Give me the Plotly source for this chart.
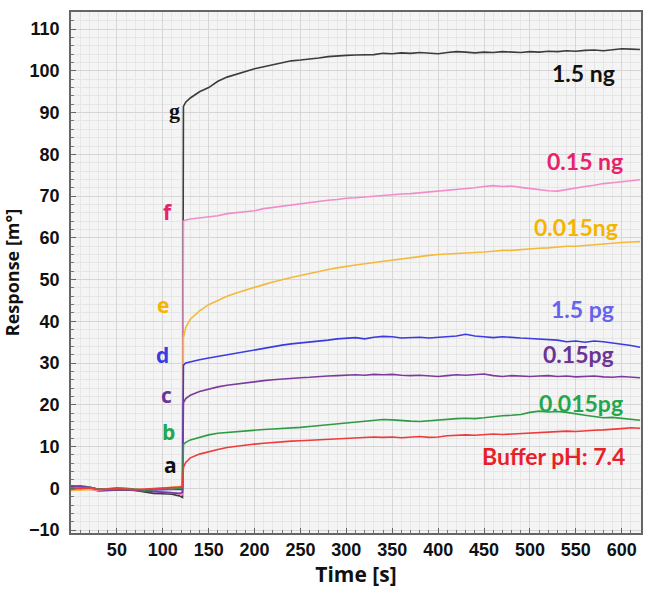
import plotly.graph_objects as go

# time axes (s)
t_pre = [0, 10, 20, 30, 40, 50, 60, 70, 80, 90, 100, 110, 118, 121.5]
t_post = [122.5, 125, 130, 140, 150, 160, 170, 180, 190, 200, 210, 220, 230, 240,
          250, 260, 270, 280, 290, 300, 310, 320, 330, 340, 350, 360, 370, 380,
          390, 400, 410, 420, 430, 440, 450, 460, 470, 480, 490, 500, 510, 520,
          530, 540, 550, 560, 570, 580, 590, 600, 610, 620]

# baseline responses before injection (m°)
g_pre = [0.5, 0.3, -0.1, -0.6, -0.5, -0.4, -0.4, -0.5, -0.9, -1.2, -1.3, -1.4, -1.8, -2.2]
f_pre = [0.3, 0.2, -0.3, -0.5, -0.3, -0.3, -0.2, -0.4, -0.6, -0.8, -0.9, -1.0, -1.3, -1.5]
e_pre = [-0.5, -0.4, -0.3, -0.3, -0.2, 0.0, -0.1, -0.3, -0.4, -0.2, 0.0, 0.2, 0.4, 0.5]
d_pre = [0.6, 0.4, 0.2, -0.2, -0.3, -0.1, -0.2, -0.4, -0.5, -0.4, -0.3, -0.3, -0.2, -0.3]
c_pre = [0.4, 0.6, 0.3, -0.2, -0.4, -0.2, -0.3, -0.5, -0.6, -0.8, -0.9, -1.0, -1.2, -1.0]
b_pre = [0.2, -0.1, 0.3, -0.2, -0.1, 0.1, 0.0, -0.2, -0.4, -0.3, -0.1, -0.2, 0.0, 0.2]
a_pre = [-0.3, 0.0, 0.1, -0.3, -0.2, -0.1, -0.2, -0.3, -0.2, -0.1, 0.0, 0.1, 0.3, 0.4]

# responses after injection (m°)
g_post = [91.5, 92.5, 93.5, 95.0, 96.0, 97.5, 98.5, 99.2, 99.8, 100.5, 101.0, 101.5, 102.0, 102.4,
          102.6, 102.8, 103.1, 103.4, 103.6, 103.7, 103.8, 103.9, 103.9, 104.2, 104.1, 104.3, 104.2, 104.4,
          104.3, 104.1, 104.4, 104.6, 104.5, 104.3, 104.5, 104.4, 104.6, 104.5, 104.4, 104.6, 104.5, 104.7,
          104.6, 104.8, 104.7, 104.9, 105.0, 104.8, 105.1, 105.3, 105.2, 105.1]
f_post = [64.0, 64.3, 64.5, 64.8, 65.0, 65.3, 65.8, 66.0, 66.3, 66.5, 67.0, 67.3, 67.5, 67.8,
          68.2, 68.5, 68.8, 69.0, 69.2, 69.5, 69.6, 69.8, 69.9, 70.2, 70.3, 70.5, 70.6, 70.8,
          71.0, 71.1, 71.4, 71.6, 71.8, 72.0, 72.3, 72.5, 72.3, 72.4, 72.1, 71.8, 71.6, 71.3,
          71.2, 71.6, 71.9, 72.3, 72.6, 73.0, 73.2, 73.4, 73.7, 73.9]
e_post = [36.0, 38.5, 40.5, 42.5, 44.0, 45.0, 46.0, 46.8, 47.5, 48.2, 48.8, 49.4, 50.0, 50.5,
          51.0, 51.5, 52.0, 52.4, 52.8, 53.2, 53.5, 53.8, 54.1, 54.4, 54.6, 54.9, 55.2, 55.6,
          55.8, 56.0, 56.1, 56.2, 56.3, 56.5, 56.6, 56.8, 57.0, 57.0, 57.2, 57.3, 57.5, 57.6,
          57.8, 58.0, 58.0, 58.2, 58.3, 58.6, 58.7, 58.9, 59.0, 59.1]
d_post = [29.5, 30.0, 30.3, 30.8, 31.2, 31.6, 32.0, 32.4, 32.8, 33.2, 33.6, 34.0, 34.3, 34.6,
          34.8, 35.0, 35.3, 35.5, 35.8, 36.0, 36.1, 35.8, 36.2, 36.4, 36.3, 36.0, 36.1, 36.2,
          36.0, 36.2, 36.3, 36.5, 36.9, 36.5, 36.3, 36.1, 36.3, 36.1, 36.0, 35.9, 35.8, 35.6,
          35.5, 35.1, 35.3, 35.0, 35.3, 35.1, 34.8, 34.6, 34.2, 33.8]
c_post = [20.5, 21.5, 22.3, 23.2, 23.8, 24.3, 24.7, 25.0, 25.3, 25.5, 25.8, 26.0, 26.2, 26.3,
          26.5, 26.6, 26.8, 26.9, 27.0, 27.1, 27.2, 27.1, 27.3, 27.2, 27.3, 27.1, 27.0, 27.1,
          26.9, 26.8, 27.0, 27.2, 27.1, 27.3, 27.4, 27.0, 26.8, 27.0, 26.9, 26.8, 26.9, 27.0,
          26.8, 26.9, 26.7, 26.8, 26.9, 26.7, 26.6, 26.8, 26.7, 26.5]
b_post = [10.5, 11.0, 11.6, 12.2, 12.8, 13.2, 13.4, 13.6, 13.8, 14.0, 14.1, 14.2, 14.3, 14.4,
          14.6, 14.8, 15.0, 15.2, 15.4, 15.6, 15.9, 16.1, 16.3, 16.5, 16.4, 16.2, 16.1, 16.0,
          16.2, 16.3, 16.5, 16.7, 16.8, 16.7, 16.9, 17.2, 17.4, 17.5, 17.7, 18.2, 18.5, 18.3,
          18.4, 18.2, 17.8, 17.5, 17.2, 16.9, 17.0, 16.8, 16.6, 16.3]
a_post = [5.0, 6.2, 7.3, 8.2, 8.8, 9.3, 9.8, 10.1, 10.4, 10.6, 10.8, 11.0, 11.2, 11.3,
          11.4, 11.5, 11.6, 11.7, 11.9, 12.0, 12.1, 12.2, 12.3, 12.2, 12.3, 12.1, 12.3, 12.4,
          12.2, 12.3, 12.6, 12.7, 12.8, 12.7, 12.9, 13.0, 12.9, 13.0, 13.1, 13.2, 13.4, 13.5,
          13.6, 13.7, 13.6, 13.8, 13.9, 14.0, 14.1, 14.3, 14.5, 14.4]

series_names = ["1.5 ng", "0.15 ng", "0.015ng", "1.5 pg", "0.15pg", "0.015pg", "Buffer pH: 7.4"]
letters = ["g", "f", "e", "d", "c", "b", "a"]
pre_sets = [g_pre, f_pre, e_pre, d_pre, c_pre, b_pre, a_pre]
post_sets = [g_post, f_post, e_post, d_post, c_post, b_post, a_post]
line_colors = ["#3c3c3c", "#f28cc8", "#f5b93a", "#3b3be0", "#7d3a9e", "#2e9a44", "#ee3b3b"]
label_colors = ["#111111", "#e8226a", "#f5b400", "#6464ee", "#6a3595", "#22a84a", "#e8202a"]
letter_colors = ["#111111", "#e8226a", "#f5b400", "#3b3be0", "#6a3595", "#22a84a", "#111111"]
letter_fonts = ["Liberation Serif, DejaVu Serif, serif"] + ["Open Sans, Lato, sans-serif"] * 6

# label anchor positions (data coordinates)
letter_x = [113, 106, 100, 100, 104, 106, 108]
letter_y = [90.5, 66.3, 43.8, 31.9, 22.3, 13.4, 5.7]
name_x = [558, 560, 550, 557, 553, 556, 526]
name_y = [99.4, 78.3, 62.5, 42.9, 32.1, 20.4, 7.7]

fig = go.Figure()
for i in range(len(series_names)):
    fig.add_trace(go.Scatter(
        x=t_pre + t_post, y=pre_sets[i] + post_sets[i], mode="lines",
        line=dict(color=line_colors[i], width=1.6), name=series_names[i],
        showlegend=False, hoverinfo="skip"))

for i in range(len(series_names)):
    fig.add_annotation(x=letter_x[i], y=letter_y[i], text=letters[i], showarrow=False,
                       font=dict(family=letter_fonts[i], size=22 if i == 0 else 21,
                                 color=letter_colors[i], weight="bold"),
                       xanchor="center", yanchor="middle")
    fig.add_annotation(x=name_x[i], y=name_y[i], text=series_names[i], showarrow=False,
                       font=dict(family="Lato, Open Sans, sans-serif", size=23,
                                 color=label_colors[i], weight="bold"),
                       xanchor="center", yanchor="middle")

tick_font = dict(family="Liberation Sans Narrow, Arial Narrow, Liberation Sans, sans-serif",
                 size=18, color="#111111", weight="bold")

fig.update_xaxes(range=[0, 621], tickvals=[50, 100, 150, 200, 250, 300, 350, 400, 450, 500, 550, 600],
                 showgrid=True, gridcolor="#d6d6d6", gridwidth=1,
                 minor=dict(dtick=10, showgrid=True, gridcolor="#e6e6e6", ticks="inside", ticklen=3,
                            tickcolor="#777"),
                 ticks="inside", ticklen=5, tickcolor="#666",
                 showline=True, mirror=True, linecolor="#666666", linewidth=1.5,
                 zeroline=False, tickfont=tick_font,
                 title=dict(text="Time [s]", standoff=6,
                            font=dict(family="Open Sans, sans-serif", size=21, color="#111", weight="bold")))
fig.update_yaxes(range=[-10.7, 114.1], tickvals=list(range(-10, 111, 10)),
                 showgrid=True, gridcolor="#d6d6d6", gridwidth=1,
                 minor=dict(dtick=2, showgrid=True, gridcolor="#e6e6e6", ticks="inside", ticklen=3,
                            tickcolor="#777"),
                 ticks="inside", ticklen=5, tickcolor="#666",
                 showline=True, mirror=True, linecolor="#666666", linewidth=1.5,
                 zeroline=False, tickfont=tick_font, ticklabelstandoff=6,
                 title=dict(text="Response [m°]", standoff=10,
                            font=dict(family="Open Sans, sans-serif", size=18, color="#111", weight="bold")))

fig.update_layout(width=645, height=590, margin=dict(l=71, r=2, t=12, b=57),
                  paper_bgcolor="white", plot_bgcolor="#f4f4f4", showlegend=False)

fig.write_html("out.html")
